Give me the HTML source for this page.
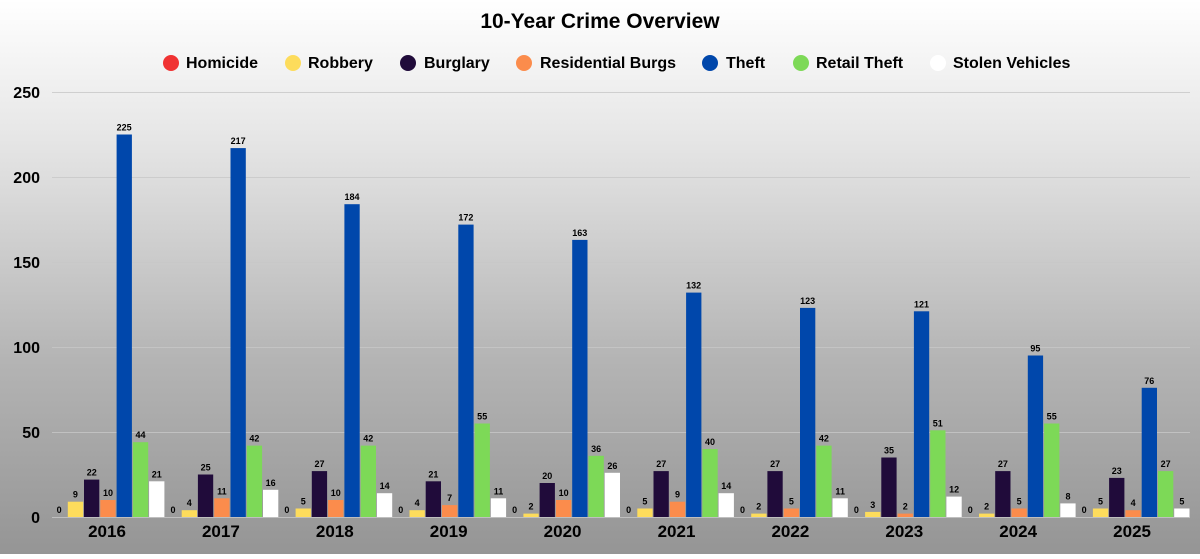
<!DOCTYPE html>
<html><head><meta charset="utf-8"><style>
html,body{margin:0;padding:0;}
body{width:1200px;height:554px;overflow:hidden;background:linear-gradient(#ffffff 0%,#e6e6e6 25%,#b4b4b4 65%,#959595 100%);font-family:"Liberation Sans",sans-serif;}
.y{fill:#fddc5c}.p{fill:#200b3a}.o{fill:#fb8c4c}.b{fill:#0047ab}.g{fill:#7dd957}.w{fill:#ffffff}
.v text{text-anchor:middle}
.v text:not([font-size]){font-size:9px}
</style></head><body>
<svg width="1200" height="554" xmlns="http://www.w3.org/2000/svg" font-family="Liberation Sans, sans-serif" font-weight="bold">
<text x="600" y="28" text-anchor="middle" font-size="21">10-Year Crime Overview</text>
<g font-size="16">
<circle cx="171" cy="63" r="8" fill="#f03232"/><text x="186" y="68">Homicide</text>
<circle cx="293" cy="63" r="8" fill="#fddc5c"/><text x="308" y="68">Robbery</text>
<circle cx="408" cy="63" r="8" fill="#200b3a"/><text x="424" y="68">Burglary</text>
<circle cx="524" cy="63" r="8" fill="#fb8c4c"/><text x="540" y="68">Residential Burgs</text>
<circle cx="710" cy="63" r="8" fill="#0047ab"/><text x="726" y="68">Theft</text>
<circle cx="801" cy="63" r="8" fill="#7dd957"/><text x="816" y="68">Retail Theft</text>
<circle cx="938" cy="63" r="8" fill="#ffffff"/><text x="953" y="68">Stolen Vehicles</text>
</g>
<g stroke="#c8c8c8" stroke-width="1" opacity="0.8">
<line x1="52" x2="1190" y1="92.5" y2="92.5"/><line x1="52" x2="1190" y1="177.5" y2="177.5"/>
<line x1="52" x2="1190" y1="262.5" y2="262.5"/><line x1="52" x2="1190" y1="347.5" y2="347.5"/>
<line x1="52" x2="1190" y1="432.5" y2="432.5"/><line x1="52" x2="1190" y1="517.5" y2="517.5"/>
</g>
<g font-size="16" text-anchor="end">
<text x="40" y="98">250</text><text x="40" y="183">200</text><text x="40" y="268">150</text>
<text x="40" y="353">100</text><text x="40" y="438">50</text><text x="40" y="523">0</text>
</g>
<g class="v">
<g transform="translate(51,0)">
<rect class="y" x="16.8" y="501.7" width="15.3" height="15.3"/><rect class="p" x="33" y="479.6" width="15.3" height="37.4"/><rect class="o" x="49.3" y="500" width="15.3" height="17"/><rect class="b" x="65.6" y="134.5" width="15.3" height="382.5"/><rect class="g" x="81.9" y="442.2" width="15.3" height="74.8"/><rect class="w" x="98.1" y="481.3" width="15.3" height="35.7"/>
<text x="8.1" y="513">0</text><text x="24.4" y="497.7">9</text><text x="40.7" y="475.6">22</text><text x="57" y="496">10</text><text x="73.2" y="130.5">225</text><text x="89.5" y="438.2">44</text><text x="105.8" y="477.3">21</text>
<text x="56" y="537" font-size="17">2016</text></g>
<g transform="translate(164.9,0)">
<rect class="y" x="16.8" y="510.2" width="15.3" height="6.8"/><rect class="p" x="33" y="474.5" width="15.3" height="42.5"/><rect class="o" x="49.3" y="498.3" width="15.3" height="18.7"/><rect class="b" x="65.6" y="148.1" width="15.3" height="368.9"/><rect class="g" x="81.9" y="445.6" width="15.3" height="71.4"/><rect class="w" x="98.1" y="489.8" width="15.3" height="27.2"/>
<text x="8.1" y="513">0</text><text x="24.4" y="506.2">4</text><text x="40.7" y="470.5">25</text><text x="57" y="494.3">11</text><text x="73.2" y="144.1">217</text><text x="89.5" y="441.6">42</text><text x="105.8" y="485.8">16</text>
<text x="56" y="537" font-size="17">2017</text></g>
<g transform="translate(278.8,0)">
<rect class="y" x="16.8" y="508.5" width="15.3" height="8.5"/><rect class="p" x="33" y="471.1" width="15.3" height="45.9"/><rect class="o" x="49.3" y="500" width="15.3" height="17"/><rect class="b" x="65.6" y="204.2" width="15.3" height="312.8"/><rect class="g" x="81.9" y="445.6" width="15.3" height="71.4"/><rect class="w" x="98.1" y="493.2" width="15.3" height="23.8"/>
<text x="8.1" y="513">0</text><text x="24.4" y="504.5">5</text><text x="40.7" y="467.1">27</text><text x="57" y="496">10</text><text x="73.2" y="200.2">184</text><text x="89.5" y="441.6">42</text><text x="105.8" y="489.2">14</text>
<text x="56" y="537" font-size="17">2018</text></g>
<g transform="translate(392.7,0)">
<rect class="y" x="16.8" y="510.2" width="15.3" height="6.8"/><rect class="p" x="33" y="481.3" width="15.3" height="35.7"/><rect class="o" x="49.3" y="505.1" width="15.3" height="11.9"/><rect class="b" x="65.6" y="224.6" width="15.3" height="292.4"/><rect class="g" x="81.9" y="423.5" width="15.3" height="93.5"/><rect class="w" x="98.1" y="498.3" width="15.3" height="18.7"/>
<text x="8.1" y="513">0</text><text x="24.4" y="506.2">4</text><text x="40.7" y="477.3">21</text><text x="57" y="501.1">7</text><text x="73.2" y="220.6">172</text><text x="89.5" y="419.5">55</text><text x="105.8" y="494.3">11</text>
<text x="56" y="537" font-size="17">2019</text></g>
<g transform="translate(506.6,0)">
<rect class="y" x="16.8" y="513.6" width="15.3" height="3.4"/><rect class="p" x="33" y="483" width="15.3" height="34"/><rect class="o" x="49.3" y="500" width="15.3" height="17"/><rect class="b" x="65.6" y="239.9" width="15.3" height="277.1"/><rect class="g" x="81.9" y="455.8" width="15.3" height="61.2"/><rect class="w" x="98.1" y="472.8" width="15.3" height="44.2"/>
<text x="8.1" y="513">0</text><text x="24.4" y="509.6">2</text><text x="40.7" y="479">20</text><text x="57" y="496">10</text><text x="73.2" y="235.9">163</text><text x="89.5" y="451.8">36</text><text x="105.8" y="468.8">26</text>
<text x="56" y="537" font-size="17">2020</text></g>
<g transform="translate(620.5,0)">
<rect class="y" x="16.8" y="508.5" width="15.3" height="8.5"/><rect class="p" x="33" y="471.1" width="15.3" height="45.9"/><rect class="o" x="49.3" y="501.7" width="15.3" height="15.3"/><rect class="b" x="65.6" y="292.6" width="15.3" height="224.4"/><rect class="g" x="81.9" y="449" width="15.3" height="68"/><rect class="w" x="98.1" y="493.2" width="15.3" height="23.8"/>
<text x="8.1" y="513">0</text><text x="24.4" y="504.5">5</text><text x="40.7" y="467.1">27</text><text x="57" y="497.7">9</text><text x="73.2" y="288.6">132</text><text x="89.5" y="445">40</text><text x="105.8" y="489.2">14</text>
<text x="56" y="537" font-size="17">2021</text></g>
<g transform="translate(734.4,0)">
<rect class="y" x="16.8" y="513.6" width="15.3" height="3.4"/><rect class="p" x="33" y="471.1" width="15.3" height="45.9"/><rect class="o" x="49.3" y="508.5" width="15.3" height="8.5"/><rect class="b" x="65.6" y="307.9" width="15.3" height="209.1"/><rect class="g" x="81.9" y="445.6" width="15.3" height="71.4"/><rect class="w" x="98.1" y="498.3" width="15.3" height="18.7"/>
<text x="8.1" y="513">0</text><text x="24.4" y="509.6">2</text><text x="40.7" y="467.1">27</text><text x="57" y="504.5">5</text><text x="73.2" y="303.9">123</text><text x="89.5" y="441.6">42</text><text x="105.8" y="494.3">11</text>
<text x="56" y="537" font-size="17">2022</text></g>
<g transform="translate(848.3,0)">
<rect class="y" x="16.8" y="511.9" width="15.3" height="5.1"/><rect class="p" x="33" y="457.5" width="15.3" height="59.5"/><rect class="o" x="49.3" y="513.6" width="15.3" height="3.4"/><rect class="b" x="65.6" y="311.3" width="15.3" height="205.7"/><rect class="g" x="81.9" y="430.3" width="15.3" height="86.7"/><rect class="w" x="98.1" y="496.6" width="15.3" height="20.4"/>
<text x="8.1" y="513">0</text><text x="24.4" y="507.9">3</text><text x="40.7" y="453.5">35</text><text x="57" y="509.6">2</text><text x="73.2" y="307.3">121</text><text x="89.5" y="426.3">51</text><text x="105.8" y="492.6">12</text>
<text x="56" y="537" font-size="17">2023</text></g>
<g transform="translate(962.2,0)">
<rect class="y" x="16.8" y="513.6" width="15.3" height="3.4"/><rect class="p" x="33" y="471.1" width="15.3" height="45.9"/><rect class="o" x="49.3" y="508.5" width="15.3" height="8.5"/><rect class="b" x="65.6" y="355.5" width="15.3" height="161.5"/><rect class="g" x="81.9" y="423.5" width="15.3" height="93.5"/><rect class="w" x="98.1" y="503.4" width="15.3" height="13.6"/>
<text x="8.1" y="513">0</text><text x="24.4" y="509.6">2</text><text x="40.7" y="467.1">27</text><text x="57" y="504.5">5</text><text x="73.2" y="351.5">95</text><text x="89.5" y="419.5">55</text><text x="105.8" y="499.4">8</text>
<text x="56" y="537" font-size="17">2024</text></g>
<g transform="translate(1076.1,0)">
<rect class="y" x="16.8" y="508.5" width="15.3" height="8.5"/><rect class="p" x="33" y="477.9" width="15.3" height="39.1"/><rect class="o" x="49.3" y="510.2" width="15.3" height="6.8"/><rect class="b" x="65.6" y="387.8" width="15.3" height="129.2"/><rect class="g" x="81.9" y="471.1" width="15.3" height="45.9"/><rect class="w" x="98.1" y="508.5" width="15.3" height="8.5"/>
<text x="8.1" y="513">0</text><text x="24.4" y="504.5">5</text><text x="40.7" y="473.9">23</text><text x="57" y="506.2">4</text><text x="73.2" y="383.8">76</text><text x="89.5" y="467.1">27</text><text x="105.8" y="504.5">5</text>
<text x="56" y="537" font-size="17">2025</text></g>
</g>
</svg>
</body></html>
